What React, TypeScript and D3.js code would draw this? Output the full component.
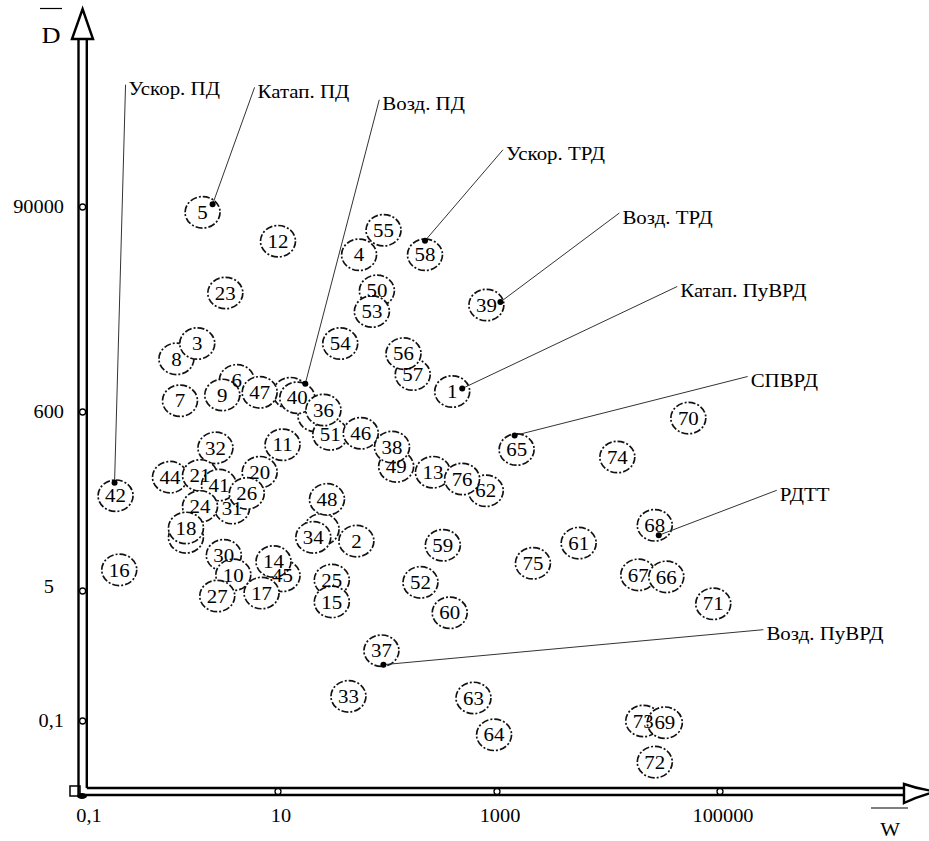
import React, { useEffect, useRef } from 'react';
import * as d3 from 'd3';

// engine numbers, in drawing order (later circles cover earlier ones)
const engineIds = [
  5, 55, 12, 4, 58, 50, 23, 39, 53, 8,
  3, 54, 57, 56, 6, 1, 47, 9, 40, 7,
  51, 36, 46, 70, 11, 32, 49, 38, 65, 74,
  44, 21, 13, 62, 76, 20, 31, 41, 26, 24,
  42, 48, 18, 68, 34, 2, 61, 59, 30, 45,
  14, 75, 16, 10, 67, 66, 25, 52, 17, 27,
  15, 71, 60, 37, 33, 63, 73, 69, 64, 72,
];
// relative work W (x)
const engineW = [
  1.7, 92, 10, 55, 220, 80, 2.9, 800, 72, 0.92,
  1.5, 37, 170, 140, 3.8, 390, 6.5, 2.7, 15, 1.0,
  30, 26, 57, 52000, 11, 2.3, 120, 110, 1500, 12000,
  0.79, 1.6, 260, 790, 480, 6.5, 3.4, 2.5, 4.8, 1.6,
  0.22, 28, 1.15, 26000, 21, 52, 5400, 320, 2.8, 11,
  9, 2100, 0.24, 3.5, 18500, 33000, 31, 200, 6.8, 2.4,
  31, 87000, 370, 88, 44, 610, 20500, 32000, 940, 26000,
];
// relative D (y)
const engineD = [
  79000, 51000, 39000, 28000, 28000, 11600, 11000, 8200, 7000, 2200,
  3200, 3200, 1500, 2500, 1300, 990, 970, 910, 850, 790,
  330, 630, 340, 510, 250, 230, 140, 235, 220, 180,
  105, 110, 120, 73, 100, 120, 46, 85, 68, 48,
  64, 58, 27, 29, 21, 19, 18, 17, 13, 7.5,
  11, 10.5, 8.8, 7.7, 7.7, 7.3, 6.7, 6.3, 4.7, 4.3,
  3.6, 3.4, 2.6, 0.83, 0.21, 0.2, 0.1, 0.095, 0.066, 0.029,
];

// points whose numbers are hidden under neighbouring circles
const hiddenIds = [19, 22, 28, 29];
const hiddenW = [13, 1.15, 25, 22];
const hiddenD = [950, 21, 26, 540];

const xTickValues = [0.1, 10, 1000, 100000];
const xTickLabels = ['0,1', '10', '1000', '100000'];
const yTickValues = [0.1, 5, 600, 90000];
const yTickLabels = ['0,1', '5', '600', '90000'];

// engine type callouts
const calloutText = ['Ускор. ПД', 'Катап. ПД', 'Возд. ПД', 'Ускор. ТРД', 'Возд. ТРД', 'Катап. ПуВРД', 'СПВРД', 'РДТТ', 'Возд. ПуВРД'];
const calloutEngine = [42, 5, 40, 58, 39, 1, 65, 68, 37];
// layout: dot offset from circle centre, then leader vector (px)
const calloutLayout = [
  { dx: -1, dy: -13, lx: 11, ly: -398 },
  { dx: 10, dy: -8, lx: 42, ly: -117 },
  { dx: 8, dy: -14, lx: 74, ly: -284 },
  { dx: 0, dy: -14, lx: 78, ly: -91 },
  { dx: 14, dy: -3, lx: 119, ly: -89 },
  { dx: 10, dy: -3, lx: 215, ly: -102 },
  { dx: -2, dy: -14, lx: 233, ly: -59 },
  { dx: 4, dy: 10, lx: 118, ly: -45 },
  { dx: 2, dy: 14, lx: 380, ly: -35 },
];

const FONT = "'Liberation Serif', 'Times New Roman', serif";

const App = () => {
  const svgRef = useRef();

  useEffect(() => {
    const width = 929;
    const height = 841;
    const svg = d3.select(svgRef.current)
      .attr('width', width)
      .attr('height', height);
    svg.selectAll('*').remove();

    const xScale = d3.scaleLog().domain(xTickValues).range([82, 278, 497, 720]);
    const yScale = d3.scaleLog().domain(yTickValues).range([721, 591, 412, 207]);

    const axisX = 82.6;
    const axisY = 791.5;

    // double-line axes
    const axes = svg.append('g').attr('stroke', '#000').attr('stroke-width', 2.4).attr('fill', 'none');
    axes.append('line').attr('x1', 78.5).attr('y1', 38).attr('x2', 78.5).attr('y2', 796);
    axes.append('line').attr('x1', 86.8).attr('y1', 38).attr('x2', 86.8).attr('y2', 788);
    axes.append('line').attr('x1', 78.5).attr('y1', 795).attr('x2', 905).attr('y2', 795);
    axes.append('line').attr('x1', 86.8).attr('y1', 788).attr('x2', 905).attr('y2', 788);
    axes.append('path')
      .attr('d', 'M72,39 Q78,22 82.6,9 Q87,22 93,39 Z')
      .attr('fill', '#fff');
    axes.append('path')
      .attr('d', 'M904,784 Q918,789 936,791.5 Q918,796 904,803 Z')
      .attr('fill', '#fff');
    axes.append('rect').attr('x', 70).attr('y', 786).attr('width', 10).attr('height', 10).attr('stroke-width', 1.5);
    svg.append('ellipse').attr('cx', 82).attr('cy', 796).attr('rx', 5).attr('ry', 3).attr('fill', '#000');

    // tick circles
    svg.selectAll('.ytick')
      .data(yTickValues)
      .enter().append('circle')
      .attr('class', 'ytick')
      .attr('cx', axisX)
      .attr('cy', d => yScale(d))
      .attr('r', 3)
      .attr('fill', '#fff')
      .attr('stroke', '#000')
      .attr('stroke-width', 1.3);

    svg.selectAll('.xtick')
      .data(xTickValues.slice(1))
      .enter().append('circle')
      .attr('class', 'xtick')
      .attr('cx', d => xScale(d))
      .attr('cy', axisY)
      .attr('r', 3)
      .attr('fill', '#fff')
      .attr('stroke', '#000')
      .attr('stroke-width', 1.3);

    // tick labels (original is stretched horizontally ~1.1)
    svg.selectAll('.ylabel')
      .data(yTickValues)
      .enter().append('g')
      .attr('class', 'ylabel')
      .attr('transform', (d, i) => `translate(${64 - (i === 1 ? 10 : 0)},${yScale(d) - (i === 1 ? 4 : 0)}) scale(1.1,1)`)
      .append('text')
      .attr('text-anchor', 'end')
      .attr('dy', '0.35em')
      .style('font-family', FONT)
      .style('font-size', '18.5px')
      .text((d, i) => yTickLabels[i]);

    svg.selectAll('.xlabel')
      .data(xTickValues)
      .enter().append('g')
      .attr('class', 'xlabel')
      .attr('transform', (d, i) => `translate(${xScale(d) + (i === 0 ? 7 : 3)},${816}) scale(1.1,1)`)
      .append('text')
      .attr('text-anchor', 'middle')
      .attr('dy', '0.35em')
      .style('font-family', FONT)
      .style('font-size', '18.5px')
      .text((d, i) => xTickLabels[i]);

    // axis names with overline
    svg.append('g')
      .attr('transform', 'translate(51,43) scale(1.1,1)')
      .append('text')
      .attr('text-anchor', 'middle')
      .style('font-family', FONT)
      .style('font-size', '24px')
      .text('D');
    svg.append('line').attr('x1', 40).attr('x2', 62).attr('y1', 8.5).attr('y2', 8.5).attr('stroke', '#000').attr('stroke-width', 1.2);

    svg.append('g')
      .attr('transform', 'translate(890,836) scale(1.1,1)')
      .append('text')
      .attr('text-anchor', 'middle')
      .style('font-family', FONT)
      .style('font-size', '19px')
      .text('W');
    svg.append('line').attr('x1', 871).attr('x2', 908).attr('y1', 808).attr('y2', 808).attr('stroke', '#000').attr('stroke-width', 1.2);

    // points
    const circleStyle = sel => sel
      .attr('rx', 17.5)
      .attr('ry', 15.7)
      .attr('fill', '#fff')
      .attr('stroke', '#111')
      .attr('stroke-width', 1.7)
      .attr('stroke-dasharray', '7,2,2,2');

    const hidden = hiddenIds.map((id, i) => ({ id, w: hiddenW[i], d: hiddenD[i] }));
    svg.selectAll('.hidden')
      .data(hidden)
      .enter().append('ellipse')
      .attr('class', 'hidden')
      .attr('cx', d => xScale(d.w))
      .attr('cy', d => yScale(d.d))
      .call(circleStyle);

    const engines = engineIds.map((id, i) => ({ id, w: engineW[i], d: engineD[i] }));
    svg.selectAll('.engine')
      .data(engines)
      .enter().append('ellipse')
      .attr('class', 'engine')
      .attr('cx', d => xScale(d.w))
      .attr('cy', d => yScale(d.d))
      .call(circleStyle);

    // numbers drawn above every circle
    svg.selectAll('.engineLabel')
      .data(engines)
      .enter().append('g')
      .attr('class', 'engineLabel')
      .attr('transform', d => `translate(${xScale(d.w)},${yScale(d.d)}) scale(1.1,1)`)
      .append('text')
      .attr('text-anchor', 'middle')
      .attr('dy', '0.35em')
      .style('font-family', FONT)
      .style('font-size', '19px')
      .text(d => d.id);

    // callouts
    const callouts = calloutText.map((text, i) => {
      const id = calloutEngine[i];
      const k = engineIds.indexOf(id);
      const lay = calloutLayout[i];
      const px = xScale(engineW[k]) + lay.dx;
      const py = yScale(engineD[k]) + lay.dy;
      return { text, px, py, ex: px + lay.lx, ey: py + lay.ly };
    });

    const cg = svg.selectAll('.callout')
      .data(callouts)
      .enter().append('g')
      .attr('class', 'callout');

    cg.append('line')
      .attr('x1', d => d.px)
      .attr('y1', d => d.py)
      .attr('x2', d => d.ex)
      .attr('y2', d => d.ey)
      .attr('stroke', '#333')
      .attr('stroke-width', 1);

    cg.append('circle')
      .attr('cx', d => d.px)
      .attr('cy', d => d.py)
      .attr('r', 3)
      .attr('fill', '#000');

    cg.append('g')
      .attr('transform', d => `translate(${d.ex + 3},${d.ey + 4}) scale(1.1,1)`)
      .append('text')
      .attr('dy', '0.35em')
      .style('font-family', FONT)
      .style('font-size', '19px')
      .text(d => d.text);
  }, []);

  return (
    <div style={{ position: 'absolute', left: 0, top: 0, background: '#fff' }}>
      <svg ref={svgRef}></svg>
    </div>
  );
};

export default App;
